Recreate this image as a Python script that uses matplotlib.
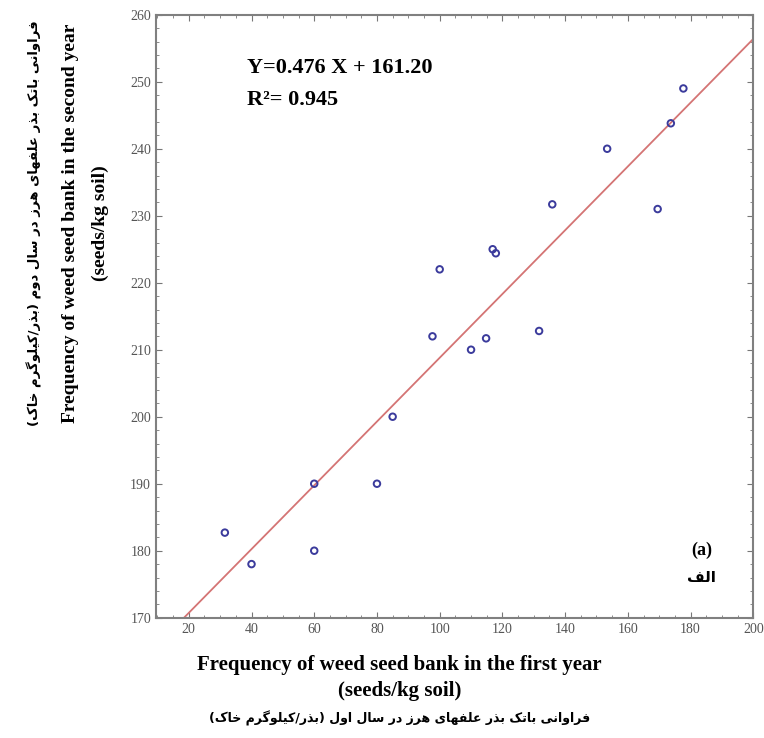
import numpy as np
import matplotlib.pyplot as plt
from matplotlib.ticker import MultipleLocator

# seed bank density, first year (x) vs second year (y)
first_year = [31.5, 40, 60, 60, 80, 85, 97.7, 100, 110, 114.8, 116.9, 117.9,
              131.7, 135.9, 153.4, 169.5, 173.7, 177.7]
second_year = [182.7, 178.0, 190.0, 180.0, 190.0, 200.0, 212.0, 222.0, 210.0, 211.7,
               225.0, 224.4, 212.8, 231.7, 240.0, 231.0, 243.8, 249.0]
slope = 0.476
intercept = 161.20
r2 = 0.945

x_ticks = [20, 40, 60, 80, 100, 120, 140, 160, 180, 200]
y_ticks = [170, 180, 190, 200, 210, 220, 230, 240, 250, 260]

# simple persian shaping (matplotlib has no bidi / joining)
FORMS = {
    'ا': ('\uFE8D', '\uFE8E', None, None),
    'ب': ('\uFE8F', '\uFE90', '\uFE91', '\uFE92'),
    'ت': ('\uFE95', '\uFE96', '\uFE97', '\uFE98'),
    'خ': ('\uFEA5', '\uFEA6', '\uFEA7', '\uFEA8'),
    'د': ('\uFEA9', '\uFEAA', None, None),
    'ذ': ('\uFEAB', '\uFEAC', None, None),
    'ر': ('\uFEAD', '\uFEAE', None, None),
    'ز': ('\uFEAF', '\uFEB0', None, None),
    'س': ('\uFEB1', '\uFEB2', '\uFEB3', '\uFEB4'),
    'ع': ('\uFEC9', '\uFECA', '\uFECB', '\uFECC'),
    'ف': ('\uFED1', '\uFED2', '\uFED3', '\uFED4'),
    'ل': ('\uFEDD', '\uFEDE', '\uFEDF', '\uFEE0'),
    'م': ('\uFEE1', '\uFEE2', '\uFEE3', '\uFEE4'),
    'ن': ('\uFEE5', '\uFEE6', '\uFEE7', '\uFEE8'),
    'ه': ('\uFEE9', '\uFEEA', '\uFEEB', '\uFEEC'),
    'و': ('\uFEED', '\uFEEE', None, None),
    'ی': ('\uFBFC', '\uFBFD', '\uFBFE', '\uFBFF'),
    'ک': ('\uFB8E', '\uFB8F', '\uFB90', '\uFB91'),
    'گ': ('\uFB92', '\uFB93', '\uFB94', '\uFB95'),
}


def fa(text):
    out = []
    for i, c in enumerate(text):
        if c not in FORMS:
            out.append(c)
            continue
        prev = text[i - 1] if i > 0 else None
        nxt = text[i + 1] if i + 1 < len(text) else None
        jp = prev in FORMS and FORMS[prev][2] is not None
        jn = nxt in FORMS and FORMS[c][2] is not None
        iso, fin, ini, med = FORMS[c]
        if jp and jn:
            out.append(med)
        elif jp:
            out.append(fin)
        elif jn:
            out.append(ini)
        else:
            out.append(iso)
    return ''.join(out)[::-1].translate(str.maketrans('()', ')('))


serif = 'Liberation Serif'
fig = plt.figure(figsize=(7.64, 7.38), dpi=100)
ax = fig.add_axes([0.204, 0.163, 0.782, 0.817])

ax.scatter(first_year, second_year, s=22, facecolors='none', edgecolors='#3b3b9c',
           linewidths=1.4, zorder=3)
xl = np.array([10, 200])
ax.plot(xl, slope * xl + intercept, color='#d47474', lw=1.3, zorder=2)

ax.set_xlim(9.5, 200)
ax.set_ylim(170, 260)
ax.set_xticks(x_ticks)
ax.set_yticks(y_ticks)
ax.xaxis.set_minor_locator(MultipleLocator(5))
ax.yaxis.set_minor_locator(MultipleLocator(2))
ax.tick_params(which='both', direction='in', top=True, right=True, color='#777777',
               labelsize=10, labelcolor='#555555')
ax.tick_params(which='major', length=4)
ax.tick_params(which='minor', length=2)
for lab in ax.get_xticklabels() + ax.get_yticklabels():
    lab.set_family(serif)
for sp in ax.spines.values():
    sp.set_color('#808080')
    sp.set_linewidth(1.5)

ax.text(0.152, 0.912, 'Y=0.476 X + 161.20', transform=ax.transAxes, fontsize=16,
        fontweight='bold', family=serif, va='center')
ax.text(0.152, 0.858, 'R²= %.3f' % r2, transform=ax.transAxes, fontsize=16,
        fontweight='bold', family=serif, va='center')
ax.text(0.913, 0.112, '(a)', transform=ax.transAxes, fontsize=13, fontweight='bold',
        family=serif, ha='center', va='center')
ax.text(0.913, 0.067, fa('الف'), transform=ax.transAxes, fontsize=11, fontweight='bold',
        family='DejaVu Sans', ha='center', va='center')

# x label
fig.text(0.523, 0.099, 'Frequency of weed seed bank in the first year', fontsize=15,
         fontweight='bold', family=serif, ha='center', va='center')
fig.text(0.523, 0.064, '(seeds/kg soil)', fontsize=15, fontweight='bold', family=serif,
         ha='center', va='center')
fig.text(0.523, 0.027, fa('فراوانی باتک بذر علفهای هرز در سال اول (بذر/کیلوگرم خاک)'),
         fontsize=9, fontweight='bold', family='DejaVu Sans', ha='center', va='center')

# y label
fig.text(0.092, 0.697, 'Frequency of weed seed bank in the second year', fontsize=14,
         fontweight='bold', family=serif, ha='center', va='center', rotation=90)
fig.text(0.131, 0.697, '(seeds/kg soil)', fontsize=14, fontweight='bold', family=serif,
         ha='center', va='center', rotation=90)
fig.text(0.045, 0.697, fa('فراوانی باتک بذر علفهای هرز در سال دوم (بذر/کیلوگرم خاک)'),
         fontsize=9.5, fontweight='bold', family='DejaVu Sans', ha='center', va='center',
         rotation=90)

fig.savefig('out.png', dpi=100)
